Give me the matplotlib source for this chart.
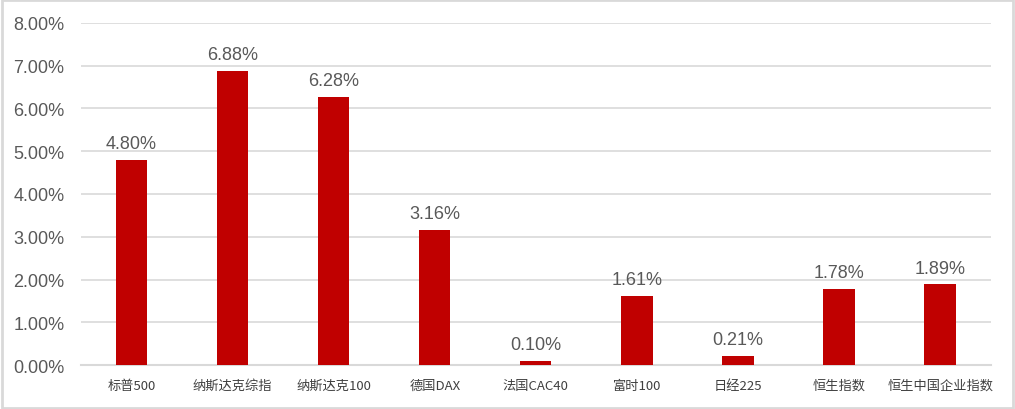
import matplotlib
matplotlib.use("Agg")
import matplotlib.pyplot as plt
from matplotlib.patches import Rectangle

categories = ["标普500", "纳斯达克综指", "纳斯达克100", "德国DAX", "法国CAC40",
              "富时100", "日经225", "恒生指数", "恒生中国企业指数"]
values = [4.80, 6.88, 6.28, 3.16, 0.10, 1.61, 0.21, 1.78, 1.89]
yticks = [0, 1, 2, 3, 4, 5, 6, 7, 8]

num_font = ['Liberation Sans', 'Noto Sans CJK SC']
cjk_font = ['Noto Sans CJK SC', 'DejaVu Sans']
plt.rcParams['font.family'] = num_font

fig = plt.figure(figsize=(10.15, 4.10), dpi=100)
ax = fig.add_axes([0.0798, 0.1073, 0.8962, 0.8342])

x = list(range(len(categories)))
ax.bar(x, values, width=0.31, color="#C00000", zorder=3)
for xi, v in zip(x, values):
    ax.text(xi, v + 0.18, f"{v:.2f}%", ha="center", va="bottom",
            fontsize=13, color="#595959", family=num_font)

ax.set_xlim(-0.5, len(categories) - 0.5)
ax.set_ylim(0, 8)
ax.set_yticks(yticks)
ax.set_yticklabels([f"{t:.2f}%" for t in yticks], fontsize=13, color="#595959")
ax.set_xticks(x)
ax.set_xticklabels(categories, fontsize=9.5, color="#404040", family=cjk_font)
ax.tick_params(axis="both", length=0)
ax.tick_params(axis="x", pad=10)
ax.tick_params(axis="y", pad=12)
ax.grid(axis="y", color="#d9d9d9", linewidth=1.2, zorder=0)
for s in ["top", "right", "left"]:
    ax.spines[s].set_visible(False)
ax.spines["bottom"].set_color("#d9d9d9")
ax.spines["bottom"].set_linewidth(1.5)

fig.patches.append(Rectangle((0.002, 0.003), 0.996, 0.994, transform=fig.transFigure,
                             fill=False, edgecolor="#d9d9d9", linewidth=2))

fig.savefig("out.png", dpi=100)
